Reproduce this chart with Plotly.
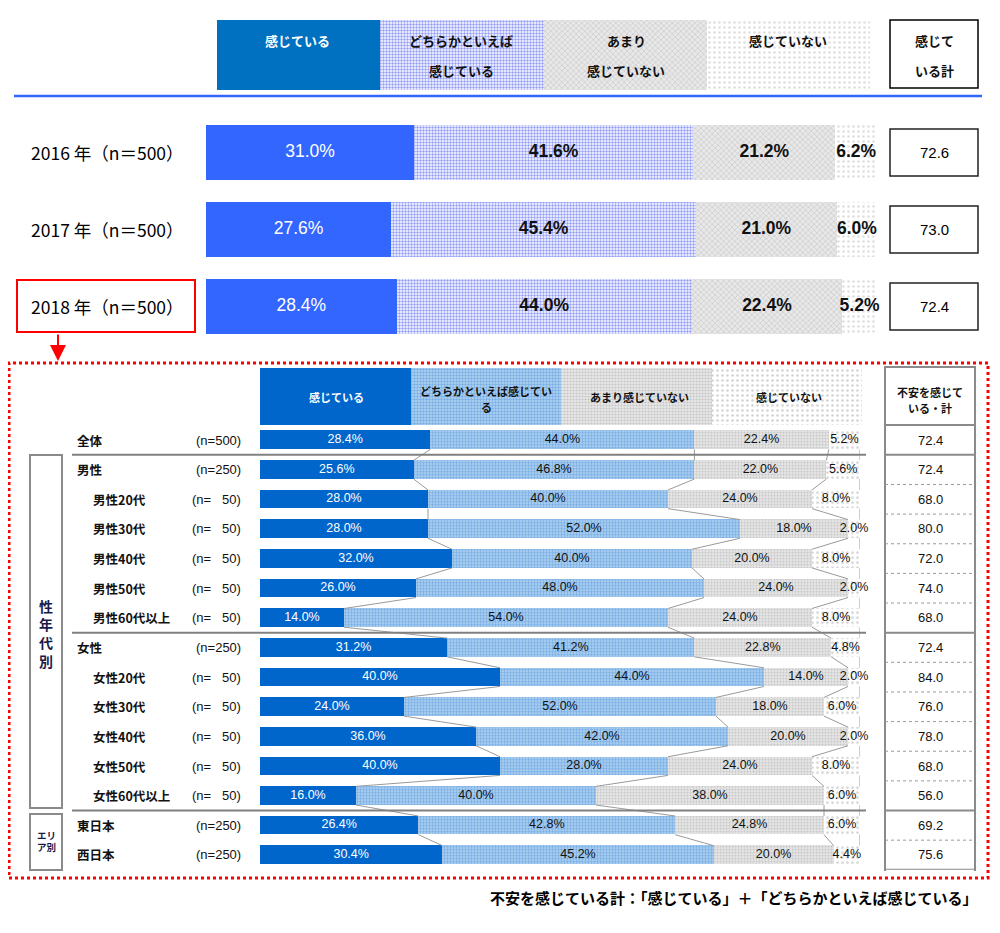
import plotly.graph_objects as go

# ---------------- data ----------------
categories = ["感じている", "どちらかといえば感じている", "あまり感じていない", "感じていない"]

top_years = ["2016 年（n＝500）", "2017 年（n＝500）", "2018 年（n＝500）"]
top_kanjiteiru = [31.0, 27.6, 28.4]
top_dochiraka = [41.6, 45.4, 44.0]
top_amari = [21.2, 21.0, 22.4]
top_kanjiteinai = [6.2, 6.0, 5.2]
top_total = [72.6, 73.0, 72.4]

seg_labels = ["全体", "男性", "男性20代", "男性30代", "男性40代", "男性50代", "男性60代以上",
              "女性", "女性20代", "女性30代", "女性40代", "女性50代", "女性60代以上",
              "東日本", "西日本"]
seg_n = [500, 250, 50, 50, 50, 50, 50, 250, 50, 50, 50, 50, 50, 250, 250]
seg_kanjiteiru = [28.4, 25.6, 28.0, 28.0, 32.0, 26.0, 14.0, 31.2, 40.0, 24.0, 36.0, 40.0, 16.0, 26.4, 30.4]
seg_dochiraka = [44.0, 46.8, 40.0, 52.0, 40.0, 48.0, 54.0, 41.2, 44.0, 52.0, 42.0, 28.0, 40.0, 42.8, 45.2]
seg_amari = [22.4, 22.0, 24.0, 18.0, 20.0, 24.0, 24.0, 22.8, 14.0, 18.0, 20.0, 24.0, 38.0, 24.8, 20.0]
seg_kanjiteinai = [5.2, 5.6, 8.0, 2.0, 8.0, 2.0, 8.0, 4.8, 2.0, 6.0, 2.0, 8.0, 6.0, 6.0, 4.4]
seg_total = [72.4, 72.4, 68.0, 80.0, 72.0, 74.0, 68.0, 72.4, 84.0, 76.0, 78.0, 68.0, 56.0, 69.2, 75.6]
group_starts = ["男性", "女性", "東日本"]

footer = "不安を感じている計：「感じている」＋「どちらかといえば感じている」"

# ---------------- helpers ----------------
OFF = 8  # page body margin
W, H = 1000 - OFF, 933 - OFF
def px(x): return (x - OFF) / W
def py(y): return 1 - (y - OFF) / H

JP = "Noto Sans CJK JP"
NUM = "Liberation Sans, Noto Sans CJK JP"

top_styles = [
    dict(color="#3366FF"),
    dict(color="#ffffff", pattern=dict(shape=".", fgcolor="#2a40f0", bgcolor="#ffffff", size=3, solidity=0.5)),
    dict(color="#ffffff", pattern=dict(shape="x", fgcolor="#a8a8a8", bgcolor="#e8e8e8", size=4, solidity=0.3)),
    dict(color="#ffffff", pattern=dict(shape=".", fgcolor="#c0c0c0", bgcolor="#ffffff", size=5, solidity=0.22)),
]
low_styles = [
    dict(color="#0066CC"),
    dict(color="#ffffff", pattern=dict(shape=".", fgcolor="#3f8ad8", bgcolor="#b4d3f2", size=3, solidity=0.5)),
    dict(color="#ffffff", pattern=dict(shape=".", fgcolor="#a0a0a0", bgcolor="#e8e8e8", size=3, solidity=0.4)),
    dict(color="#ffffff", pattern=dict(shape=".", fgcolor="#a8a8a8", bgcolor="#ffffff", size=5, solidity=0.22)),
]

fig = go.Figure()

# ---------------- top chart ----------------
top_series = [top_kanjiteiru, top_dochiraka, top_amari, top_kanjiteinai]
ty = list(range(len(top_years)))
TW = 0.71
for name, vals, st in zip(categories, top_series, top_styles):
    fig.add_trace(go.Bar(x=vals, y=ty, orientation="h", name=name, width=TW,
                         marker=dict(line=dict(width=0), **st),
                         xaxis="x", yaxis="y", hoverinfo="skip", showlegend=False))
cum = [0.0] * len(ty)
for k, vals in enumerate(top_series):
    centers = [c + v / 2 for c, v in zip(cum, vals)]
    cum = [c + v for c, v in zip(cum, vals)]
    fig.add_trace(go.Scatter(
        x=centers, y=ty, mode="text", text=[f"{v:.1f}%" if k == 0 else f"<b>{v:.1f}%</b>" for v in vals],
        textfont=dict(family=NUM, size=17.5, color="#ffffff" if k == 0 else "#111111"),
        xaxis="x", yaxis="y", hoverinfo="skip", showlegend=False, cliponaxis=False))

# header (legend) bars top
for name, st in zip(categories, [dict(color="#0070C0")] + top_styles[1:]):
    fig.add_trace(go.Bar(x=[1], y=[0], orientation="h", width=1, marker=dict(line=dict(width=0), **st),
                         xaxis="x2", yaxis="y2", hoverinfo="skip", showlegend=False))

# ---------------- lower chart ----------------
low_series = [seg_kanjiteiru, seg_dochiraka, seg_amari, seg_kanjiteinai]
ly = list(range(len(seg_labels)))
LW = 0.63
for name, vals, st in zip(categories, low_series, low_styles):
    fig.add_trace(go.Bar(x=vals, y=ly, orientation="h", name=name, width=LW,
                         marker=dict(line=dict(width=0), **st),
                         xaxis="x4", yaxis="y4", hoverinfo="skip", showlegend=False))

# series lines between consecutive rows
cum = [0.0] * len(ly)
bounds = []
for vals in low_series:
    cum = [c + v for c, v in zip(cum, vals)]
    bounds.append(cum[:])
for b in bounds:
    xs, ys = [], []
    for i in range(len(ly) - 1):
        xs += [b[i], b[i + 1], None]
        ys += [i + LW / 2, i + 1 - LW / 2, None]
    fig.add_trace(go.Scatter(x=xs, y=ys, mode="lines", line=dict(color="#9a9a9a", width=1),
                             xaxis="x4", yaxis="y4", hoverinfo="skip", showlegend=False))

cum = [0.0] * len(ly)
for k, vals in enumerate(low_series):
    centers = [c + v / 2 for c, v in zip(cum, vals)]
    cum = [c + v for c, v in zip(cum, vals)]
    fig.add_trace(go.Scatter(
        x=centers, y=ly, mode="text", text=[f"{v:.1f}%" for v in vals],
        textfont=dict(family=NUM, size=12.5, color="#ffffff" if k == 0 else "#111111"),
        xaxis="x4", yaxis="y4", hoverinfo="skip", showlegend=False, cliponaxis=False))

# header (legend) bars lower
for name, st in zip(categories, low_styles):
    fig.add_trace(go.Bar(x=[1], y=[0], orientation="h", width=1, marker=dict(line=dict(width=0), **st),
                         xaxis="x3", yaxis="y3", hoverinfo="skip", showlegend=False))

# ---------------- shapes & annotations ----------------
shapes = []
ann = []

def A(x, y, text, size=12, color="#111", xanchor="center", yref="paper", family=JP, **kw):
    ann.append(dict(x=x, y=y, xref="paper", yref=yref, text=text, showarrow=False,
                    xanchor=xanchor, yanchor="middle", font=dict(family=family, size=size, color=color), **kw))

# top header texts
A(px(297), py(41), "<b>感じている</b>", 13, "#ffffff")
A(px(461), py(41), "<b>どちらかといえば</b>", 13)
A(px(461), py(71), "<b>感じている</b>", 13)
A(px(626), py(41), "<b>あまり</b>", 13)
A(px(626), py(71), "<b>感じていない</b>", 13)
A(px(788), py(41), "<b>感じていない</b>", 13)
shapes.append(dict(type="rect", xref="paper", yref="paper", x0=px(890), x1=px(978), y0=py(88), y1=py(20),
                   line=dict(color="#000", width=1.5)))
A(px(934), py(41), "<b>感じて</b>", 13)
A(px(934), py(71), "<b>いる計</b>", 13)
# blue separator
shapes.append(dict(type="line", xref="paper", yref="paper", x0=px(14), x1=px(982), y0=py(96), y1=py(96),
                   line=dict(color="#3366FF", width=2.5)))

# top year labels and totals
for i, (lab, tot) in enumerate(zip(top_years, top_total)):
    A(px(29), i, lab, 17.5, "#000", xanchor="left", yref="y", family=JP)
    shapes.append(dict(type="rect", xref="paper", yref="y", x0=px(890), x1=px(978), y0=i - 0.305, y1=i + 0.305,
                       line=dict(color="#222", width=1.5)))
    A(px(934), i, f"{tot:.1f}", 15, "#000", yref="y", family=NUM)

# red box around latest year + arrow
shapes.append(dict(type="rect", xref="paper", yref="paper", x0=px(17), x1=px(195), y0=py(332), y1=py(280),
                   line=dict(color="#ff0000", width=2)))
ann.append(dict(x=px(58), y=py(361), xref="paper", yref="paper", text="", showarrow=True,
                ax=0, ay=-28, arrowhead=2, arrowsize=1.6, arrowwidth=2, arrowcolor="#ff0000"))
# red dotted frame
shapes.append(dict(type="rect", xref="paper", yref="paper", x0=px(9), x1=px(988), y0=py(878), y1=py(363),
                   line=dict(color="#ff0000", width=3, dash="dot")))

# lower header texts
A(px(336), py(397), "<b>感じている</b>", 11, "#ffffff")
A(px(486), py(391), "<b>どちらかといえば感じてい</b>", 11)
A(px(486), py(407), "<b>る</b>", 11)
A(px(639), py(397), "<b>あまり感じていない</b>", 11)
A(px(789), py(397), "<b>感じていない</b>", 11)

# totals table lower
shapes.append(dict(type="rect", xref="paper", yref="paper", x0=px(885), x1=px(975), y0=py(425), y1=py(367),
                   line=dict(color="#8a8a8a", width=2)))
A(px(930), py(392), "<b>不安を感じて</b>", 11)
A(px(930), py(408), "<b>いる・計</b>", 11)
for xx in (885, 975):
    shapes.append(dict(type="line", xref="paper", yref="paper", x0=px(xx), x1=px(xx), y0=py(871), y1=py(425),
                       line=dict(color="#8a8a8a", width=2)))
shapes.append(dict(type="line", xref="paper", yref="y4", x0=px(885), x1=px(975), y0=len(ly) - 0.5, y1=len(ly) - 0.5,
                   line=dict(color="#8a8a8a", width=2)))
for i, lab in enumerate(seg_labels):
    if i > 0:
        solid = lab in group_starts
        shapes.append(dict(type="line", xref="paper", yref="y4", x0=px(885), x1=px(975), y0=i - 0.5, y1=i - 0.5,
                           line=dict(color="#8a8a8a" if solid else "#9a9a9a", width=2 if solid else 1,
                                     dash="solid" if solid else "dot")))
        if solid:
            shapes.append(dict(type="line", xref="paper", yref="y4", x0=px(72), x1=px(866), y0=i - 0.5, y1=i - 0.5,
                               line=dict(color="#808080", width=2)))
    A(px(930), i, f"{seg_total[i]:.1f}", 13, "#111", yref="y4", family=NUM)
    sub = "代" in lab
    A(px(91) if sub else px(75), i, f"<b>{lab}</b>", 12.5, "#111", xanchor="left", yref="y4")
    n = seg_n[i]
    ntxt = f"(n={n})" if n >= 100 else f"(n=\u00a0\u00a0\u00a0{n})"
    A(px(243), i, ntxt, 13, "#111", xanchor="right", yref="y4", family=NUM)

# group boxes
shapes.append(dict(type="rect", xref="paper", yref="paper", x0=px(30), x1=px(62), y0=py(808), y1=py(455),
                   line=dict(color="#8a8a8a", width=2)))
shapes.append(dict(type="rect", xref="paper", yref="paper", x0=px(30), x1=px(62), y0=py(870), y1=py(814),
                   line=dict(color="#8a8a8a", width=2)))
A(px(46), py(633), "<b>性<br>年<br>代<br>別</b>", 14, "#1a1a4a")
A(px(46), py(841), "<b>エリ<br>ア別</b>", 9.5, "#1a1a4a")

# footer
A(px(980), py(897), f"<b>{footer}</b>", 15, "#000", xanchor="right")

ax_common = dict(visible=False, fixedrange=True)
fig.update_layout(
    width=W, height=H, margin=dict(l=0, r=0, t=0, b=0),
    paper_bgcolor="#ffffff", plot_bgcolor="rgba(0,0,0,0)",
    barmode="stack", bargap=0, showlegend=False,
    xaxis=dict(domain=[px(206), px(877)], range=[0, 100], anchor="y", **ax_common),
    yaxis=dict(domain=[py(345), py(114)], range=[len(ty) - 0.5, -0.5], anchor="x", **ax_common),
    xaxis2=dict(domain=[px(217), px(870)], range=[0, 4], anchor="y2", **ax_common),
    yaxis2=dict(domain=[py(90), py(20)], range=[-0.5, 0.5], anchor="x2", **ax_common),
    xaxis3=dict(domain=[px(260), px(862)], range=[0, 4], anchor="y3", **ax_common),
    yaxis3=dict(domain=[py(425), py(368)], range=[-0.5, 0.5], anchor="x3", **ax_common),
    xaxis4=dict(domain=[px(260), px(860)], range=[0, 100], anchor="y4", **ax_common),
    yaxis4=dict(domain=[py(869.8), py(425.2)], range=[len(ly) - 0.5, -0.5], anchor="x4", **ax_common),
    shapes=shapes, annotations=ann,
)

fig.write_html("out.html")
